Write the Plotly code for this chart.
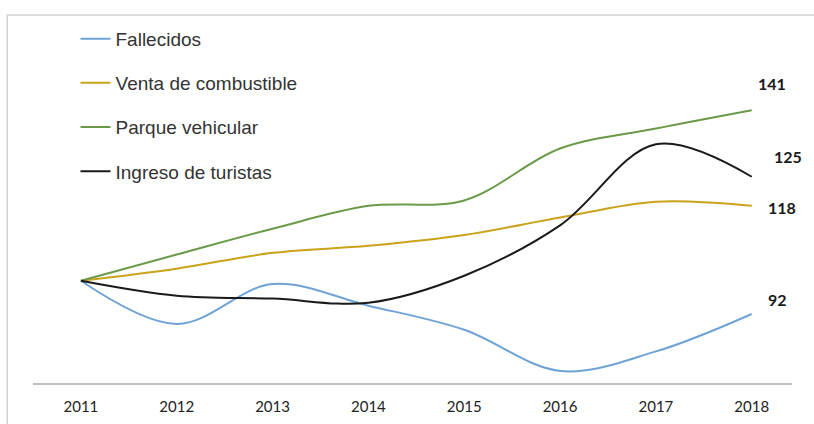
import plotly.graph_objects as go

years = [2011, 2012, 2013, 2014, 2015, 2016, 2017, 2018]
fallecidos = [100, 89.6, 99.2, 94.0, 88.2, 78.3, 83.0, 92]
venta = [100, 102.9, 106.7, 108.4, 111.0, 115.2, 119.0, 118]
parque = [100, 106.3, 112.5, 118.0, 119.3, 131.8, 136.6, 141]
ingreso = [100, 96.4, 95.7, 94.7, 101.2, 113.3, 132.8, 125]

names = ["Fallecidos", "Venta de combustible", "Parque vehicular", "Ingreso de turistas"]
series = [fallecidos, venta, parque, ingreso]
colors = ["#6FA3D6", "#C9A31A", "#6A9A48", "#1A1A1A"]
end_labels = ["92", "118", "141", "125"]
label_shift = [(26, 14), (30, -2), (20, 27), (36, 20)]

fig = go.Figure()
for i, (n, s, c) in enumerate(zip(names, series, colors)):
    fig.add_trace(go.Scatter(
        x=years, y=s, name=n, mode="lines",
        line=dict(color=c, width=2, shape="spline", smoothing=1.0),
        legendgroup=f"g{i}", hoverinfo="skip"))
    fig.add_annotation(x=years[-1], y=s[-1], text=f"<b>{end_labels[i]}</b>",
                       showarrow=False, xshift=label_shift[i][0], yshift=label_shift[i][1],
                       font=dict(family="Lato, Carlito, sans-serif", size=16, color="#1a1a1a"))

# chart frame (top and left border)
fig.add_shape(type="line", xref="paper", yref="paper", x0=-0.034, x1=1.03, y0=1.0, y1=1.0,
              line=dict(color="#D0D0D0", width=1.5))
fig.add_shape(type="line", xref="paper", yref="paper", x0=-0.034, x1=-0.034, y0=1.0, y1=-0.2,
              line=dict(color="#D0D0D0", width=1.5))

fig.update_layout(
    width=814, height=424,
    margin=dict(l=33, r=22, t=15, b=41, autoexpand=False),
    paper_bgcolor="white", plot_bgcolor="white",
    showlegend=True,
    legend=dict(x=0.056, y=0.987, xanchor="left", yanchor="top",
                font=dict(family="Liberation Sans, Arial, sans-serif", size=19, color="#333333"),
                tracegroupgap=16.5, bgcolor="rgba(0,0,0,0)", itemwidth=30),
    xaxis=dict(range=[2010.5, 2018.42], tickmode="array", tickvals=years,
               ticktext=[str(y) for y in years], showgrid=False, zeroline=False,
               showline=True, linecolor="#BFBFBF", linewidth=1.5, ticks="",
               ticklen=0, ticklabelstandoff=9, automargin=False,
               tickfont=dict(family="Lato, Carlito, sans-serif", size=15, color="#222222")),
    yaxis=dict(range=[75.4, 163.9], visible=False, showgrid=False, zeroline=False,
               automargin=False),
)

fig.write_html("out.html")
